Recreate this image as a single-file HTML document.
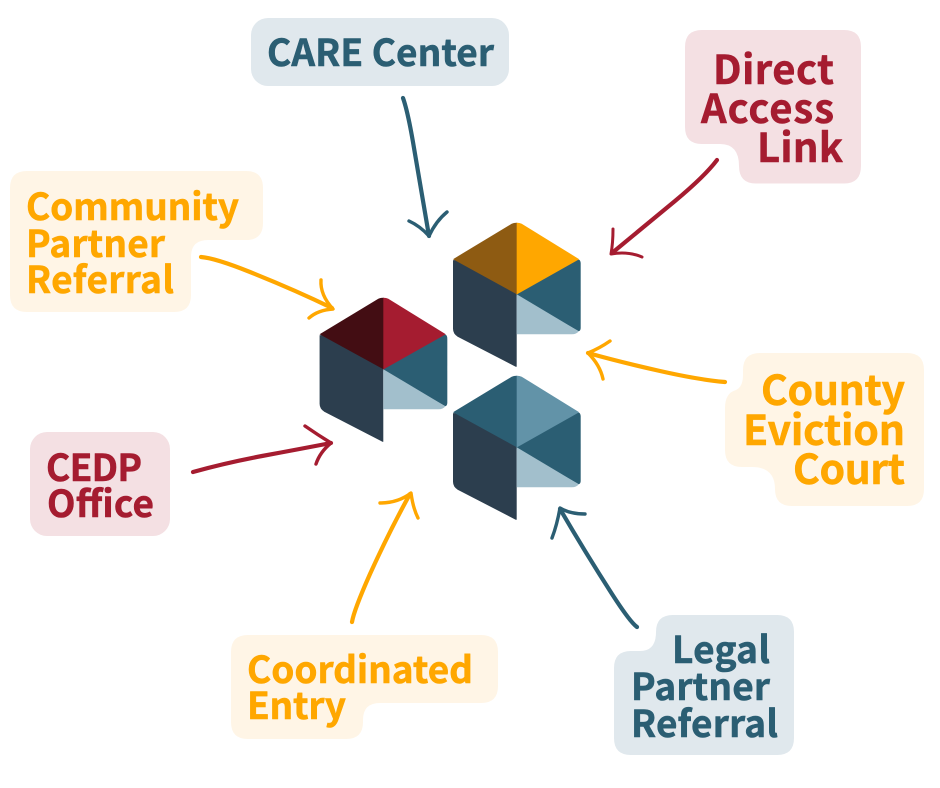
<!DOCTYPE html>
<html lang="en">
<head>
<meta charset="utf-8">
<title>Referral sources</title>
<style>
html,body{margin:0;padding:0;background:#fff;width:940px;height:788px;overflow:hidden}
svg{display:block}
text{font-family:"Noto Sans CJK JP","Liberation Sans",sans-serif;font-weight:700;stroke-width:.55px;stroke-linejoin:round}
.a{fill:none;stroke-linecap:round;stroke-linejoin:round}
</style>
</head>
<body>
<svg xmlns="http://www.w3.org/2000/svg" width="940" height="788" viewBox="0 0 940 788">
<!-- bubbles -->
<rect x="251" y="18" width="258" height="68" rx="17" fill="#E0E8ED"/>
<path fill="#FFF5E6" d="M27,171 H246 Q263,171 263,188 V223 Q263,240 246,240 H208 Q191,240 191,257 V295 Q191,312 174,312 H27 Q10,312 10,295 V188 Q10,171 27,171Z"/>
<path fill="#F4E0E3" d="M702,30 H844 Q861,30 861,47 V166 Q861,183.500 844,183.500 H756 Q739,183.500 739,166 Q739,144 720,144 H702 Q685,144 685,127 V47 Q685,30 702,30Z"/>
<path fill="#FFF5E6" d="M760,353 H907 Q924,353 924,370 V489 Q924,506 907,506 H792 Q775,506 775,489 Q775,467 752,467 H742 Q725,467 725,450 V408 Q725,393 736,390 Q743,387 743,375 V370 Q743,353 760,353Z"/>
<path fill="#E0E8ED" d="M673,615 H777 Q794,615 794,632 V738 Q794,755 777,755 H631 Q614,755 614,738 V668 Q614,651 631,651 H640 Q656,651 656,632 Q656,615 673,615Z"/>
<path fill="#FFF5E6" d="M248,635 H481 Q498,635 498,652 V686 Q498,703 481,703 H380 Q363,703 363,720 V722 Q363,739 346,739 H248 Q231,739 231,722 V652 Q231,635 248,635Z"/>
<rect x="30" y="432" width="140" height="104" rx="17" fill="#F4E0E3"/>

<!-- hexagons -->
<g transform="translate(516.7,222.7)">
<path fill="#2C3E4E" d="M-63.7,37.500 V106 Q-63.7,111 -59,114 L-1,144 H0 V68 L-40,35Z"/>
<path fill="#2B5E73" d="M0,68 L40,35 L62.500,37 Q64,38 64,41 V105 Q64,108 62,108.500L0,73Z"/>
<path fill="#A2BFCC" d="M0,71.5 L62,108.5 Q60,111.5 55,111.5 H0Z"/>
<path fill="#8E5B12" d="M0.500,0 H0 Q-3,0 -5,1 L-63.700,36.500 L0.500,71.800Z"/>
<path fill="#FFA700" d="M0,0 Q3,0 5,1 L62.5,36.500 L0,71.800Z"/>
</g>
<g transform="translate(383.3,297.7)">
<path fill="#2C3E4E" d="M-63.7,37.500 V106 Q-63.7,111 -59,114 L-1,144 H0 V68 L-40,35Z"/>
<path fill="#2B5E73" d="M0,68 L40,35 L62.500,37 Q64,38 64,41 V105 Q64,108 62,108.500L0,73Z"/>
<path fill="#A2BFCC" d="M0,71.5 L62,108.5 Q60,111.5 55,111.5 H0Z"/>
<path fill="#430D13" d="M0.500,0 H0 Q-3,0 -5,1 L-63.700,36.500 L0.500,71.800Z"/>
<path fill="#A51C30" d="M0,0 Q3,0 5,1 L62.5,36.500 L0,71.800Z"/>
</g>
<g transform="translate(516.7,375.7)">
<path fill="#2C3E4E" d="M-63.7,37.500 V106 Q-63.7,111 -59,114 L-1,144 H0 V68 L-40,35Z"/>
<path fill="#2B5E73" d="M0,68 L40,35 L62.500,37 Q64,38 64,41 V105 Q64,108 62,108.500L0,73Z"/>
<path fill="#A2BFCC" d="M0,71.5 L62,108.5 Q60,111.5 55,111.5 H0Z"/>
<path fill="#2B5E73" d="M0.500,0 H0 Q-3,0 -5,1 L-63.700,36.500 L0.500,71.800Z"/>
<path fill="#6293A8" d="M0,0 Q3,0 5,1 L62.5,36.500 L0,71.800Z"/>
</g>

<!-- arrows -->
<g class="a" stroke="#2B5E73" stroke-width="4.200">
<path d="M403,98 Q408,112 414,148 Q422,195 429,236"/>
<path d="M409,221 Q420,226 429,236 Q436,221 447,212" stroke-width="3.400"/>
<path d="M637,627 Q630,622 612,594 Q585,552 560,509"/>
<path d="M585,514 Q570,514 560,508 Q557,525 552,538" stroke-width="3.400"/>
</g>
<g class="a" stroke="#A51C30" stroke-width="4.200">
<path d="M717,160 Q705,176 675,201 Q640,230 612,253"/>
<path d="M613,229 Q613,243 611,254 Q628,251 642,257" stroke-width="3"/>
<path d="M193,472 Q225,463 262,456 Q300,449 331,443"/>
<path d="M305,426 Q318,435 331,443 Q320,452 316,464" stroke-width="3.400"/>
</g>
<g class="a" stroke="#FFA700" stroke-width="4.200">
<path d="M201,257 Q215,258 250,272 Q295,290 332,308"/>
<path d="M321,280 Q320,295 333,309 Q318,310 309,318" stroke-width="3.400"/>
<path d="M725,382 Q700,380 660,371 Q620,362 588,353"/>
<path d="M610,341 Q600,348 588,353 Q600,365 603,379" stroke-width="3.400"/>
<path d="M352,622 Q354,610 370,574 Q390,530 410,494"/>
<path d="M380,503 Q398,503 411,493 Q413,508 418,518" stroke-width="3.400"/>
</g>

<!-- labels -->
<g fill="#2B5E73" stroke="#2B5E73" font-size="37">
<text x="267" y="66" textLength="227" lengthAdjust="spacing">CARE Center</text>
<text x="672" y="663" textLength="98" lengthAdjust="spacing">Legal</text>
<text x="631" y="700" textLength="139" lengthAdjust="spacing">Partner</text>
<text x="631" y="737" textLength="147" lengthAdjust="spacing">Referral</text>
</g>
<g fill="#A51C30" stroke="#A51C30" font-size="40">
<text x="713" y="84" textLength="121" lengthAdjust="spacing">Direct</text>
<text x="701" y="123" textLength="133" lengthAdjust="spacing">Access</text>
<text x="757" y="162" textLength="86" lengthAdjust="spacing">Link</text>
</g>
<g fill="#A51C30" stroke="#A51C30" font-size="37">
<text x="46" y="481" textLength="96" lengthAdjust="spacing">CEDP</text>
<text x="47" y="517" textLength="107" lengthAdjust="spacing">Office</text>
</g>
<g fill="#FFA700" stroke="#FFA700" font-size="37">
<text x="26" y="220" textLength="213" lengthAdjust="spacing">Community</text>
<text x="26" y="257" textLength="139" lengthAdjust="spacing">Partner</text>
<text x="26" y="293" textLength="148" lengthAdjust="spacing">Referral</text>
<text x="247" y="683" textLength="226" lengthAdjust="spacing">Coordinated</text>
<text x="247" y="719" textLength="99" lengthAdjust="spacing">Entry</text>
</g>
<g fill="#FFA700" stroke="#FFA700" font-size="41">
<text x="761" y="405" textLength="144" lengthAdjust="spacing">County</text>
<text x="743" y="445" textLength="162" lengthAdjust="spacing">Eviction</text>
<text x="793" y="484" textLength="112" lengthAdjust="spacing">Court</text>
</g>
</svg>
</body>
</html>
